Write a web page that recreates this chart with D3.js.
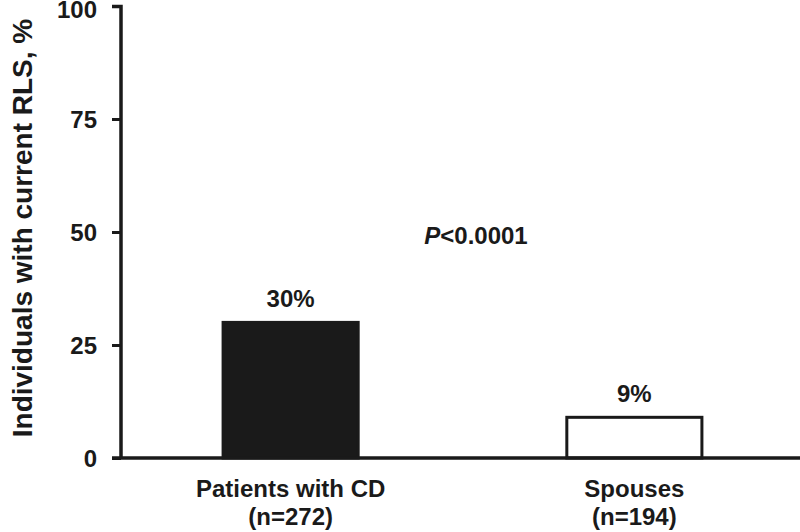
<!DOCTYPE html>
<html><head><meta charset="utf-8">
<script src="https://cdn.jsdelivr.net/npm/d3@7"></script>
<style>body{margin:0;background:#fff}text{font-family:"Liberation Sans",Arial,sans-serif;font-weight:bold;fill:#1a1a1a}</style>
</head><body>
<svg id="c" width="800" height="532"></svg>
<script>
const categories = ["Patients with CD", "Spouses"];
const sampleSizes = ["(n=272)", "(n=194)"];
const values = [30, 9];
const valueLabels = ["30%", "9%"];
const fills = ["#1a1a1a", "#ffffff"];
const yTicks = [0, 25, 50, 75, 100];
const pText = "<0.0001";

const svg = d3.select("#c");
const ink = "#1a1a1a";
const x = d3.scaleBand().domain(categories).range([121, 804]).paddingInner(0.607).paddingOuter(0.297);
const y = d3.scaleLinear().domain([0, 100]).range([458, 6]);

// bars
svg.selectAll("rect.bar").data(values).enter().append("rect")
  .attr("x", (d, i) => x(categories[i]))
  .attr("y", d => y(d))
  .attr("width", x.bandwidth())
  .attr("height", d => y(0) - y(d))
  .attr("fill", (d, i) => fills[i])
  .attr("stroke", ink).attr("stroke-width", 3);

// y axis
const yAxis = d3.axisLeft(y).tickValues(yTicks).tickSize(9).tickPadding(15);
const gy = svg.append("g").attr("transform", "translate(121,0)").call(yAxis);
gy.select(".domain").attr("stroke", ink).attr("stroke-width", 3.5).attr("d", "M-9,6.5H0V458");
gy.selectAll(".tick line").attr("stroke", ink).attr("stroke-width", 3);
gy.selectAll(".tick text").style("font-size", "24px").attr("dy", d => d === 100 ? "0.48em" : "0.36em");

// x axis line
svg.append("line").attr("x1", 112).attr("x2", 800).attr("y1", y(0)).attr("y2", y(0))
  .attr("stroke", ink).attr("stroke-width", 3.5);

// category labels
categories.forEach((c, i) => {
  const cx = x(c) + x.bandwidth() / 2;
  svg.append("text").attr("x", cx).attr("y", 497).attr("text-anchor", "middle").style("font-size", "24px").text(c);
  svg.append("text").attr("x", cx).attr("y", 525).attr("text-anchor", "middle").style("font-size", "24px").text(sampleSizes[i]);
  svg.append("text").attr("x", cx).attr("y", y(values[i]) - 15).attr("text-anchor", "middle").style("font-size", "24px").text(valueLabels[i]);
});

// p-value
const pt = svg.append("text").attr("x", 476).attr("y", 244).attr("text-anchor", "middle").style("font-size", "24px");
pt.append("tspan").style("font-style", "italic").text("P");
pt.append("tspan").text(pText);

// y title
svg.append("text").attr("transform", "translate(32,228) rotate(-90)").attr("text-anchor", "middle")
  .style("font-size", "28px").text("Individuals with current RLS, %");
</script>
</body></html>
